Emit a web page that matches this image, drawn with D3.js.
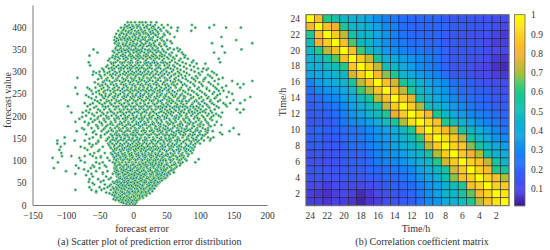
<!DOCTYPE html>
<html>
<head>
<meta charset="utf-8">
<script src="https://cdn.jsdelivr.net/npm/d3@7"></script>
<style>
html, body { margin: 0; padding: 0; background: #fff; }
text { font-family: "Liberation Serif", serif; fill: #333; }
</style>
</head>
<body>
<div id="chart"></div>
<script>
// scatter: forecast value of each row, and the forecast errors read along that row
const rowValues = [411,405,399,392,385,378,371,364,357,350,343,336,329,321,314,307,300,293,286,279,272,264,257,250,243,236,229,222,215,208,201,194,187,180,173,166,159,152,145,138,131,124,117,110,106,103,96,89,83,76,70,64,58,52,46,40,34,28,23,18,13,8,4];
const rowErrors = [
[-8,-3,3,10,14,19,27,35],
[-12,-6,-1,5,9,15,22,26,33,43,52,88,121],
[-18,-13,-8,-4,1,6,11,17,21,28,31,38,46,57,67,93,114,139,161],
[-22,-16,-11,-6,-2,3,8,13,18,24,29,35,42,50,66,87],
[-25,-19,-14,-9,-4,1,5,11,16,21,27,32,38,46,55],
[-27,-20,-15,-11,-6,-1,4,9,14,19,24,30,37,44,62,132],
[-28,-22,-17,-12,-7,-3,2,7,12,18,23,29,36,43,51,154],
[-27,-21,-15,-10,-4,1,6,13,19,25,31,40,48,58,118,178],
[-24,-19,-13,-8,-2,3,9,15,21,27,34,42,50,133],
[-59,-26,-20,-14,-9,-3,2,7,12,18,24,30,36,44,52,61,70,162],
[-53,-28,-21,-16,-11,-5,1,6,11,17,23,29,35,41,49,58,73,121,137],
[-65,-30,-24,-18,-12,-6,-1,5,10,16,22,28,34,40,47,56,65,78],
[-35,-27,-20,-14,-8,-2,4,9,15,21,27,33,39,46,53,62,71,82,128],
[-66,-33,-26,-19,-13,-7,-1,5,11,17,23,29,35,42,48,55,63,74,88,130],
[-64,-38,-29,-22,-15,-9,-3,3,9,15,21,27,34,40,47,54,60,70,85],
[-46,-36,-28,-21,-14,-8,-2,4,10,16,22,28,35,41,49,56,66,80,97,105,112],
[-59,-50,-43,-35,-27,-20,-13,-7,-1,5,11,17,23,29,36,43,50,58,67,76,92,103,118],
[-60,-50,-42,-34,-26,-19,-12,-6,0,6,12,18,25,31,38,45,52,61,72,84,100,112,125],
[-83,-47,-38,-30,-23,-16,-9,-3,3,9,15,21,27,33,40,47,55,64,74,88,96,108,118,134],
[-43,-35,-27,-20,-13,-7,-1,5,11,17,23,29,35,41,48,56,63,70,82,93,105,122,148,178],
[-52,-41,-33,-25,-18,-11,-5,1,7,13,19,25,31,37,44,51,58,66,77,90,102,116,127,156,165],
[-86,-68,-56,-44,-36,-28,-21,-14,-8,-2,4,10,16,22,28,35,42,49,56,64,72,85,98,110,123,133,160],
[-62,-51,-42,-34,-27,-19,-12,-6,0,6,12,18,24,30,37,44,51,59,67,75,88,100,114,128,135],
[-83,-60,-50,-41,-33,-26,-19,-13,-7,-1,5,11,17,23,29,36,43,50,57,65,73,82,95,107,119,130,148],
[-66,-55,-45,-37,-30,-23,-16,-10,-4,2,8,14,20,26,32,39,46,53,61,69,78,90,102,113,124,140,175],
[-57,-48,-39,-32,-25,-18,-11,-5,1,7,13,19,25,31,37,44,51,58,66,74,84,94,105,116,130,150,167],
[-72,-60,-50,-42,-34,-27,-20,-13,-7,-1,5,11,17,23,30,36,43,50,57,64,72,80,89,98,107,118,135,145,160],
[-97,-68,-55,-45,-37,-29,-22,-15,-9,-3,3,9,15,21,27,34,41,48,55,62,70,78,86,95,104,112,125,140],
[-64,-52,-43,-35,-27,-20,-14,-8,-2,4,10,16,22,28,34,41,48,55,62,69,77,85,93,101,109,122,155,165],
[-92,-75,-66,-54,-46,-38,-30,-23,-16,-10,-4,2,8,14,20,26,32,39,46,53,60,68,76,84,92,100,108,118,133,160],
[-70,-58,-48,-40,-32,-25,-18,-12,-6,0,6,12,18,24,30,37,44,51,58,65,72,79,87,95,103,111,120,128],
[-80,-63,-53,-44,-36,-28,-21,-15,-9,-3,3,9,15,21,27,33,40,47,54,61,68,75,83,91,99,107,115],
[-86,-72,-60,-50,-41,-33,-26,-19,-13,-7,-1,5,11,17,23,29,36,43,50,57,64,71,78,86,94,102,110,125],
[-67,-55,-46,-38,-30,-23,-16,-10,-4,2,8,14,20,26,32,39,46,53,60,67,74,81,89,97,105,113,122,132],
[-76,-62,-52,-42,-34,-27,-21,-15,-9,-3,3,9,15,21,27,33,39,45,52,59,66,73,80,88,96,104,112,150],
[-84,-58,-47,-37,-30,-24,-17,-11,-5,1,7,13,19,25,31,37,44,51,58,65,72,79,86,93,101,109,119,144],
[-70,-55,-42,-33,-27,-21,-15,-9,-3,3,9,15,21,27,33,39,45,51,57,64,71,78,85,92,100,108,133,158],
[-102,-60,-48,-36,-30,-24,-18,-12,-6,0,6,12,18,24,30,36,42,48,54,60,67,74,81,88,95,103,112,120],
[-113,-87,-72,-52,-40,-33,-27,-21,-15,-9,-3,3,9,15,21,27,33,39,45,51,57,63,70,77,84,91,98,106,115],
[-113,-102,-65,-55,-37,-31,-25,-19,-13,-7,-1,5,10,15,20,25,30,35,41,47,53,59,65,72,79,86,93,100],
[-108,-78,-62,-45,-34,-28,-22,-16,-10,-5,0,5,10,15,20,25,30,36,42,48,54,60,66,72,78,85,92],
[-110,-68,-50,-30,-25,-20,-14,-9,-4,1,6,11,16,21,26,31,36,41,47,53,59,65,71,77,83,90],
[-107,-58,-42,-33,-27,-22,-17,-12,-7,-2,3,8,13,18,23,28,33,38,44,50,56,62,68,74,80,88],
[-106,-92,-72,-60,-48,-30,-25,-20,-15,-10,-5,0,5,10,15,20,25,30,35,40,46,52,58,64,70,76,82],
[-120,-80,-55,-38],
[-28,-23,-18,-13,-8,-3,2,7,12,17,22,27,32,37,42,48,54,60,66,72,78,98],
[-112,-72,-55,-45,-30,-26,-21,-16,-11,-6,-1,4,9,14,19,24,29,34,39,44,50,56,62,68,74,93],
[-85,-60,-42,-27,-23,-18,-13,-8,-3,2,7,12,17,22,27,32,37,42,47,52,58,64,70],
[-118,-81,-63,-50,-28,-24,-19,-14,-9,-4,1,6,11,16,21,26,31,36,41,46,51,57,63],
[-100,-67,-55,-38,-27,-22,-17,-12,-7,-2,3,8,13,18,23,28,33,38,43,48,54,60],
[-86,-62,-45,-30,-25,-20,-15,-10,-5,0,5,10,15,20,25,30,35,40,45,50,55],
[-60,-40,-24,-19,-14,-9,-4,1,6,11,16,21,26,31,36,41,46,51],
[-65,-52,-36,-21,-16,-11,-6,-1,4,9,14,19,24,29,34,39,44],
[-66,-48,-30,-26,-20,-15,-10,-5,0,5,10,15,20,25,30,35,40],
[-58,-42,-33,-24,-19,-14,-9,-4,1,6,11,16,21,26,31,36],
[-65,-50,-38,-30,-25,-20,-15,-10,-5,0,5,10,15,20,25,30],
[-86,-62,-47,-33,-27,-22,-17,-12,-7,-2,3,8,13,18,23,27],
[-55,-40,-29,-24,-19,-14,-9,-4,1,6,11,16,21],
[-31,-26,-21,-16,-11,-6,-1,4,9,14,18],
[-27,-22,-17,-12,-7,-2,3,8,12],
[-29,-24,-19,-14,-9,-4,1,6,9],
[-20,-15,-10,-5,0,4],
[-14,-9,-4,1]
];
// second pass over the cloud, rows that fall between the ones above
const extraValues = [402,395,389,382,375,368,361,353,346,339,332,325,318,311,304,297,290,283,276,268,261,254,247,240,233,226,219,212,205,198,191,184,177,170,163,156,149,142,135,128,121,114,107,100,93,86,80,73,67,61,55,49,43,37,31,26,21,16,11,6,2];
const extraErrors = [
[-9,0,7,20,30],
[-14,-2,12,24,33,41],
[-17,-7,6,15,26,37,52],
[-20,-10,2,10,23,34,47],
[-24,-13,-5,8,17,28,41],
[-25,-9,0,11,21,33,46,56],
[-23,-15,-5,5,16,27,39,47],
[-26,-18,-6,4,14,29,37,55,66],
[-30,-17,-7,5,13,26,38,46,68],
[-24,-15,-4,8,20,31,43,54,75],
[-31,-22,-10,1,12,25,36,51,60,77],
[-37,-23,-11,-3,7,19,31,44,58,69,90],
[-32,-17,-5,6,18,26,37,51,66,79,95,108],
[-40,-25,-12,0,13,24,38,52,62,76,91],
[-44,-31,-18,-4,8,19,33,46,60,71,87,110],
[-55,-38,-24,-10,2,14,27,41,54,69,80,98,121],
[-48,-32,-21,-8,4,16,30,43,57,68,78,94,115],
[-52,-40,-25,-14,-1,10,24,37,50,62,79,91,106,128],
[-57,-45,-31,-16,-4,8,20,34,46,60,72,86,99,113],
[-49,-38,-24,-10,3,15,26,39,53,63,80,92,104,120,139],
[-65,-47,-30,-16,-3,9,21,33,47,54,70,83,96,110,125],
[-55,-44,-29,-15,-4,8,20,32,40,54,62,78,91,103,121,143],
[-70,-47,-35,-22,-8,4,15,27,41,48,59,71,86,97,109,126],
[-62,-43,-28,-14,-2,10,22,34,47,55,67,76,87,99,111,122],
[-53,-39,-24,-9,3,16,28,38,53,60,73,82,92,103,115,127],
[-64,-46,-32,-17,-6,6,18,32,45,52,66,75,88,100,110,121,138],
[-58,-41,-25,-12,1,13,24,37,44,59,68,81,90,98,114,128],
[-70,-49,-33,-18,-5,7,19,30,43,51,64,73,83,96,106,116],
[-61,-44,-28,-14,-1,12,25,35,49,56,70,80,89,97,113,124],
[-76,-52,-37,-22,-8,5,17,28,40,47,62,69,81,92,105,117,131],
[-57,-43,-27,-11,1,13,22,35,42,55,63,76,84,98,108,118],
[-66,-47,-32,-17,-6,8,19,31,38,52,60,72,82,90,101,112],
[-53,-40,-24,-12,0,11,24,34,41,49,62,70,80,91,100,116],
[-73,-44,-32,-19,-7,5,16,28,36,48,56,68,77,85,94,108],
[-60,-39,-25,-13,0,6,18,30,42,50,61,69,76,90,99,111,130],
[-48,-31,-20,-8,4,12,23,35,47,54,63,75,83,97,106],
[-65,-38,-25,-13,-1,10,20,31,40,49,56,68,82,90,102,116],
[-52,-34,-23,-10,1,8,17,28,37,46,55,66,75,87,96],
[-60,-36,-28,-16,-4,7,13,23,33,43,52,62,70,80,90],
[-72,-33,-24,-13,-3,8,17,27,38,45,57,68,76,88],
[-52,-29,-18,-7,3,12,19,29,40,50,61,69,79,86],
[-64,-31,-24,-15,-5,5,14,24,34,43,52,59,72,83],
[-48,-28,-19,-11,-1,9,18,27,35,44,55,66,75],
[-78,-35,-24,-16,-6,4,13,22,31,41,49,58,70,80],
[-50,-27,-20,-10,0,9,15,26,34,43,51,63,71],
[-58,-40,-25,-15,-7,3,12,20,30,38,46,55,65],
[-73,-26,-17,-10,-1,8,15,24,34,42,49,60],
[-45,-25,-16,-8,3,10,19,29,36,44,53,61],
[-70,-23,-14,-6,2,12,18,27,35,42,51],
[-33,-21,-12,-3,5,13,23,32,38,47],
[-44,-24,-13,-7,3,12,18,27,33,43],
[-60,-28,-18,-8,2,8,17,24,32,38],
[-35,-22,-12,-2,7,13,22,29,35],
[-43,-29,-17,-6,3,12,18,28,32],
[-55,-27,-18,-8,-1,8,17,23,29],
[-35,-25,-13,-5,4,12,20,25],
[-28,-19,-9,0,7,15,20],
[-24,-14,-5,3,10,15],
[-26,-16,-7,2,7],
[-17,-8,-2,5],
[-10,-5,0,3]
];
// third pass, only the dense core of the cloud
const coreValues = [387,373,359,348,334,320,309,295,281,270,259,245,234,221,210,196,182,168,157,147,133,126,112,101,91,78,69,60,51,44,36,29,20,10];
const coreErrors = [
[-17,-3,9,19,30],
[-18,-8,3,15,26],
[-22,-11,0,11,24,32],
[-23,-12,0,9,22,33],
[-26,-15,-3,7,19,30,43],
[-29,-16,-4,7,20,32,45],
[-32,-18,-5,6,13,25,38,52],
[-30,-15,-3,9,21,34,47,63],
[-39,-24,-11,1,13,25,37,51,68],
[-46,-29,-14,-1,11,23,35,48,61,74],
[-38,-23,-9,3,15,27,40,53,70,83],
[-41,-27,-13,0,11,24,36,49,63,76],
[-36,-21,-8,4,16,28,41,54,69,79,95],
[-41,-25,-11,1,12,25,38,50,65,74,90],
[-33,-19,-6,6,17,30,42,57,72,88,104],
[-39,-24,-11,1,13,25,37,50,64,79,96],
[-34,-20,-7,5,17,29,41,55,70,84,100],
[-32,-20,-8,4,16,28,40,54,68,82,96,112],
[-24,-12,0,12,24,36,48,60,75,89,104],
[-30,-18,-6,6,18,30,42,54,66,80,94],
[-20,-8,3,13,22,33,44,57,69,83],
[-27,-16,-6,4,13,24,34,44,55,68,80],
[-22,-12,-2,8,18,27,37,49,60,73],
[-25,-15,-5,4,14,25,34,45,56,69],
[-20,-10,0,10,19,29,39,50,61],
[-24,-14,-4,6,16,26,36,46,57],
[-22,-12,-2,8,17,27,37,47],
[-19,-9,1,11,21,31,42,48],
[-23,-13,-3,7,17,27,37],
[-16,-6,4,14,24,33],
[-24,-13,-3,6,16,25],
[-26,-16,-6,3,13,19],
[-19,-9,1,10,14],
[-21,-11,-1,5]
];
const errorTicks = [-150,-100,-50,0,50,100,150,200];
const valueTicks = [0,50,100,150,200,250,300,350,400];

// correlation matrix, rows 24 -> 1 from the top, columns 24 -> 1 from the left
const hours = d3.range(24, 0, -1);
const hourTicks = [24,22,20,18,16,14,12,10,8,6,4,2];
const barTicks = [0.1,0.2,0.3,0.4,0.5,0.6,0.7,0.8,0.9,1];
const corr = [
[1,.85,.6,.52,.47,.45,.42,.38,.32,.28,.25,.22,.2,.2,.2,.2,.18,.15,.15,.15,.14,.14,.12,.11],
[.82,1,.85,.8,.58,.47,.45,.42,.38,.3,.27,.22,.2,.2,.2,.2,.2,.17,.15,.15,.15,.15,.12,.1],
[.58,.85,1,.88,.72,.55,.46,.44,.4,.33,.27,.24,.21,.2,.2,.2,.18,.15,.13,.13,.13,.13,.09,.07],
[.5,.8,.88,1,.85,.64,.48,.44,.38,.32,.27,.25,.22,.22,.2,.2,.17,.16,.13,.14,.14,.1,.08,.08],
[.47,.6,.72,.85,1,.85,.63,.48,.42,.35,.31,.28,.25,.25,.22,.22,.2,.15,.15,.15,.15,.12,.1,.1],
[.44,.47,.55,.65,.85,1,.87,.74,.55,.44,.4,.36,.33,.3,.26,.24,.2,.15,.15,.13,.13,.1,.07,.06],
[.42,.45,.47,.5,.6,.87,1,.9,.73,.5,.47,.4,.35,.3,.27,.24,.2,.14,.13,.12,.1,.09,.05,.04],
[.38,.4,.43,.45,.47,.75,.9,1,.83,.68,.58,.45,.4,.35,.32,.28,.23,.16,.15,.13,.11,.1,.08,.07],
[.28,.36,.4,.42,.45,.57,.72,.85,1,.85,.75,.56,.5,.44,.38,.34,.3,.23,.2,.17,.15,.13,.12,.12],
[.23,.3,.33,.35,.4,.48,.63,.7,.86,1,.86,.73,.58,.48,.43,.37,.33,.27,.22,.2,.18,.16,.13,.13],
[.2,.22,.27,.3,.36,.4,.5,.57,.73,.86,1,.88,.78,.52,.45,.4,.35,.3,.25,.22,.2,.18,.16,.15],
[.17,.2,.21,.25,.3,.37,.43,.48,.55,.72,.88,1,.88,.7,.5,.45,.4,.35,.3,.25,.22,.2,.18,.18],
[.16,.17,.19,.22,.27,.33,.38,.44,.49,.58,.78,.88,1,.92,.82,.58,.45,.4,.35,.3,.27,.25,.22,.2],
[.14,.16,.16,.19,.25,.3,.33,.36,.43,.5,.57,.7,.93,1,.92,.85,.6,.5,.45,.38,.32,.27,.25,.22],
[.18,.2,.18,.19,.22,.24,.26,.3,.34,.38,.42,.48,.58,.86,1,.9,.82,.72,.55,.48,.42,.36,.3,.25],
[.17,.18,.15,.17,.2,.24,.25,.28,.32,.35,.4,.44,.5,.62,.88,1,.93,.87,.72,.55,.47,.4,.33,.3],
[.16,.17,.15,.16,.18,.22,.23,.27,.3,.33,.38,.42,.46,.52,.72,.88,1,.9,.87,.68,.55,.46,.4,.36],
[.13,.14,.13,.15,.17,.19,.2,.23,.27,.3,.33,.36,.42,.46,.54,.7,.88,1,.88,.8,.7,.52,.44,.42],
[.12,.13,.12,.14,.16,.18,.19,.21,.25,.28,.3,.33,.38,.42,.47,.6,.75,.88,1,.9,.85,.72,.55,.46],
[.14,.15,.14,.15,.16,.17,.17,.2,.2,.23,.25,.27,.3,.37,.42,.48,.55,.75,.88,1,.9,.84,.6,.55],
[.13,.14,.13,.14,.15,.15,.15,.17,.18,.2,.21,.24,.27,.33,.38,.42,.52,.68,.85,.9,1,.9,.85,.7],
[.1,.1,.08,.11,.12,.1,.1,.12,.14,.16,.18,.2,.22,.27,.33,.37,.42,.5,.58,.85,.9,1,.9,.88],
[.08,.07,.05,.08,.1,.08,.04,.07,.1,.12,.14,.16,.2,.25,.32,.37,.44,.47,.56,.66,.83,.9,1,.94],
[.08,.08,.06,.09,.08,.06,.03,.06,.08,.12,.13,.16,.18,.23,.3,.34,.4,.44,.5,.58,.72,.86,.94,1]
];

const svg = d3.select("#chart").append("svg")
    .attr("width", 550)
    .attr("height", 250)
    .style("display", "block");

//left panel, scatter
const x = d3.scaleLinear().domain([-150, 200]).range([32.5, 267]);
const y = d3.scaleLinear().domain([0, 450]).range([205, 5]);

const points = [];
function addRows(values, errors) {
    values.forEach(function(v, i) {
        errors[i].forEach(function(e) { points.push({err: e, val: v}); });
    });
}
addRows(rowValues, rowErrors);
addRows(extraValues, extraErrors);
addRows(coreValues, coreErrors);

svg.append("g").selectAll("circle")
    .data(points)
    .enter()
    .append("circle")
    .attr("cx", d => x(d.err))
    .attr("cy", d => y(d.val))
    .attr("r", 1.35)
    .attr("fill", "#0e8aa6")
    .attr("stroke", "#cdea7c")
    .attr("stroke-width", 0.6);

const xAxis = svg.append("g")
    .attr("transform", "translate(0,205)")
    .call(d3.axisBottom(x).tickValues(errorTicks).tickSize(0).tickPadding(7).tickFormat(d3.format("d")));
const yAxis = svg.append("g")
    .attr("transform", "translate(32.5,0)")
    .call(d3.axisLeft(y).tickValues(valueTicks).tickSize(0).tickPadding(6));

[xAxis, yAxis].forEach(function(a) {
    a.selectAll("text").attr("font-size", 9.5).style("font-family", '"Liberation Serif", serif').attr("fill", "#333");
    a.select(".domain").attr("stroke", "#777").attr("stroke-width", 1);
});

svg.append("text").attr("x", 142).attr("y", 232).attr("text-anchor", "middle").attr("font-size", 10).text("forecast error");
svg.append("text").attr("transform", "translate(11,100) rotate(-90)").attr("text-anchor", "middle").attr("font-size", 10).text("forecast value");
svg.append("text").attr("x", 149.5).attr("y", 245).attr("text-anchor", "middle").attr("font-size", 10).text("(a) Scatter plot of prediction error distribution");

//right panel, matrix
const xCell = d3.scaleBand().domain(hours).range([306, 509]);
const yCell = d3.scaleBand().domain(hours).range([14.7, 205.7]);

const color = d3.scaleLinear()
    .domain([0.01, 0.05, 0.1, 0.2, 0.3, 0.4, 0.5, 0.6, 0.65, 0.7, 0.8, 0.9, 1])
    .range(["#3a1a8c", "#4a30c8", "#4848ee", "#2a66ff", "#0d8cf6", "#0fabe0", "#10bdb8", "#1fc98a", "#4fc860", "#aebf35", "#f8b030", "#ffd21e", "#ffff00"]);

corr.forEach(function(row, i) {
    svg.append("g").selectAll("rect")
        .data(row)
        .enter()
        .append("rect")
        .attr("x", (d, j) => xCell(hours[j]))
        .attr("y", yCell(hours[i]))
        .attr("width", xCell.bandwidth())
        .attr("height", yCell.bandwidth())
        .attr("fill", d => color(d))
        .attr("stroke", "#1c1c30")
        .attr("stroke-opacity", 0.75)
        .attr("stroke-width", 0.7);
});

svg.append("rect")
    .attr("x", 306).attr("y", 14.7).attr("width", 203).attr("height", 191)
    .attr("fill", "none").attr("stroke", "#777").attr("stroke-width", 1);

const xHour = svg.append("g")
    .attr("transform", "translate(0,205.7)")
    .call(d3.axisBottom(xCell).tickValues(hourTicks).tickSize(0).tickPadding(7));
const yHour = svg.append("g")
    .attr("transform", "translate(306,0)")
    .call(d3.axisLeft(yCell).tickValues(hourTicks).tickSize(0).tickPadding(6));

//colorbar
const barY = d3.scaleLinear().domain([0.01, 1]).range([205.7, 14.7]);
svg.append("g").selectAll("rect")
    .data(d3.range(0.01, 1, 0.005))
    .enter()
    .append("rect")
    .attr("x", 514.5)
    .attr("y", d => barY(d + 0.005))
    .attr("width", 10.5)
    .attr("height", d => barY(d) - barY(d + 0.005) + 0.5)
    .attr("fill", d => color(d));
svg.append("rect")
    .attr("x", 514.5).attr("y", 14.7).attr("width", 10.5).attr("height", 191)
    .attr("fill", "none").attr("stroke", "#666").attr("stroke-width", 0.8);

const barAxis = svg.append("g")
    .attr("transform", "translate(525,0)")
    .call(d3.axisRight(barY).tickValues(barTicks).tickSize(0).tickPadding(6).tickFormat(d3.format("")));

[xHour, yHour, barAxis].forEach(function(a) {
    a.selectAll("text").attr("font-size", 9.5).style("font-family", '"Liberation Serif", serif').attr("fill", "#333");
    a.select(".domain").remove();
});

svg.append("text").attr("x", 416).attr("y", 232).attr("text-anchor", "middle").attr("font-size", 10).text("Time/h");
svg.append("text").attr("transform", "translate(286,102) rotate(-90)").attr("text-anchor", "middle").attr("font-size", 10).text("Time/h");
svg.append("text").attr("x", 422).attr("y", 245).attr("text-anchor", "middle").attr("font-size", 10).text("(b) Correlation coefficient matrix");
</script>
</body>
</html>
